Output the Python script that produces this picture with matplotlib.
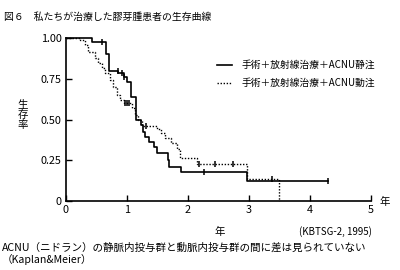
import matplotlib
matplotlib.use("Agg")
import matplotlib.pyplot as plt
from matplotlib.lines import Line2D
import numpy as np

plt.rcParams['font.family'] = ['Noto Sans CJK JP', 'DejaVu Sans']

# ---- data ----
title = "図６　私たちが治療した膠芽腫患者の生存曲線"
label_iv = "手術＋放射線治療＋ACNU静注"
label_ia = "手術＋放射線治療＋ACNU動注"

iv_times = [0.43, 0.66, 0.71, 0.86, 0.95, 1.00, 1.07, 1.15, 1.24, 1.26, 1.30, 1.37,
            1.44, 1.50, 1.68, 1.70, 1.89, 2.98]
iv_surv = [0.975, 0.90, 0.80, 0.785, 0.76, 0.73, 0.64, 0.50, 0.466, 0.425, 0.394, 0.364,
           0.333, 0.293, 0.25, 0.21, 0.176, 0.123]
iv_end = 4.3
iv_censor = [0.60, 0.85, 0.93, 0.96, 2.27, 4.3]

ia_times = [0.24, 0.32, 0.37, 0.48, 0.53, 0.59, 0.64, 0.73, 0.78, 0.84, 0.89, 0.95,
            1.08, 1.14, 1.19, 1.25, 1.49, 1.57, 1.62, 1.72, 1.83, 1.87, 2.15, 2.97, 3.50]
ia_surv = [0.988, 0.957, 0.916, 0.875, 0.845, 0.814, 0.783, 0.742, 0.70, 0.65, 0.62, 0.60,
           0.569, 0.528, 0.50, 0.463, 0.44, 0.417, 0.385, 0.355, 0.32, 0.266, 0.225, 0.135, 0.0]
ia_end = 3.50
ia_censor = [0.97, 1.00, 1.03, 1.32, 2.19, 2.45, 2.75, 3.39]

x_ticks = [0, 1, 2, 3, 4, 5]
x_ticklabels = ["0", "1", "2", "3", "4", "5"]
y_ticks = [0, 0.25, 0.5, 0.75, 1.0]
y_ticklabels = ["0", "0.25", "0.50", "0.75", "1.00"]

W, H = 400, 270
fig = plt.figure(figsize=(4, 2.7), dpi=100)
fig.patch.set_facecolor("white")

def fx(px):
    return px / W

def fy(py):
    return 1 - py / H

ax = fig.add_axes([fx(65.7), fy(201), fx(370.7) - fx(65.7), fy(38) - fy(201)])

def step_xy(times, surv, end):
    xs = [0.0] + list(times) + [end]
    ys = [1.0] + list(surv) + [surv[-1]]
    return xs, ys

def surv_at(times, surv, t):
    s = 1.0
    for ti, si in zip(times, surv):
        if ti <= t:
            s = si
    return s

xs, ys = step_xy(iv_times, iv_surv, iv_end)
ax.step(xs, ys, where="post", color="black", lw=1.2, clip_on=False, zorder=3)
ax.plot(iv_censor, [surv_at(iv_times, iv_surv, t) for t in iv_censor],
        ls="none", marker="|", ms=5, mew=1.1, color="black", clip_on=False, zorder=3)

xs, ys = step_xy(ia_times, ia_surv, ia_end)
ax.step(xs, ys, where="post", color="black", lw=1.0, ls=(0, (1, 1.2)), clip_on=False, zorder=2)
ax.plot(ia_censor, [surv_at(ia_times, ia_surv, t) for t in ia_censor],
        ls="none", marker="|", ms=5, mew=1.1, color="black", clip_on=False, zorder=2)

ax.set_xlim(0, 5)
ax.set_ylim(0, 1.0)
for s in ["top", "right"]:
    ax.spines[s].set_visible(False)
for s in ["left", "bottom"]:
    ax.spines[s].set_linewidth(1.2)
ax.set_xticks(x_ticks)
ax.set_xticklabels(x_ticklabels)
ax.set_yticks(y_ticks)
ax.set_yticklabels(y_ticklabels)
ax.tick_params(direction="in", length=4, width=1.0, labelsize=7.8, pad=3)
ax.patch.set_alpha(0)

# y label stacked
for i, ch in enumerate("生存率"):
    fig.text(fx(22.5), fy(105 + i * 10), ch, fontsize=7.5, ha="center", va="center")

fig.text(fx(4), fy(17), title, fontsize=7.1, ha="left", va="center")

# legend
fig.add_artist(Line2D([fx(216.7), fx(231.7)], [fy(65), fy(65)], color="black", lw=1.2))
fig.add_artist(Line2D([fx(216.7), fx(231.7)], [fy(83.3), fy(83.3)], color="black", lw=1.0,
                      ls=(0, (1, 1.2))))
fig.text(fx(241.7), fy(65), label_iv, fontsize=7, ha="left", va="center")
fig.text(fx(241.7), fy(83.3), label_ia, fontsize=7, ha="left", va="center")

fig.text(fx(385), fy(202), "年", fontsize=7.5, ha="center", va="center")
fig.text(fx(220), fy(232), "年", fontsize=7.5, ha="center", va="center")
fig.text(fx(372), fy(232), "(KBTSG-2, 1995)", fontsize=7, ha="right", va="center")
fig.text(fx(2), fy(248), "ACNU（ニドラン）の静脈内投与群と動脈内投与群の間に差は見られていない",
         fontsize=7.6, ha="left", va="center")
fig.text(fx(2), fy(259), "（Kaplan&Meier）", fontsize=7.6, ha="left", va="center")

fig.savefig("out.png", dpi=100, facecolor="white")
